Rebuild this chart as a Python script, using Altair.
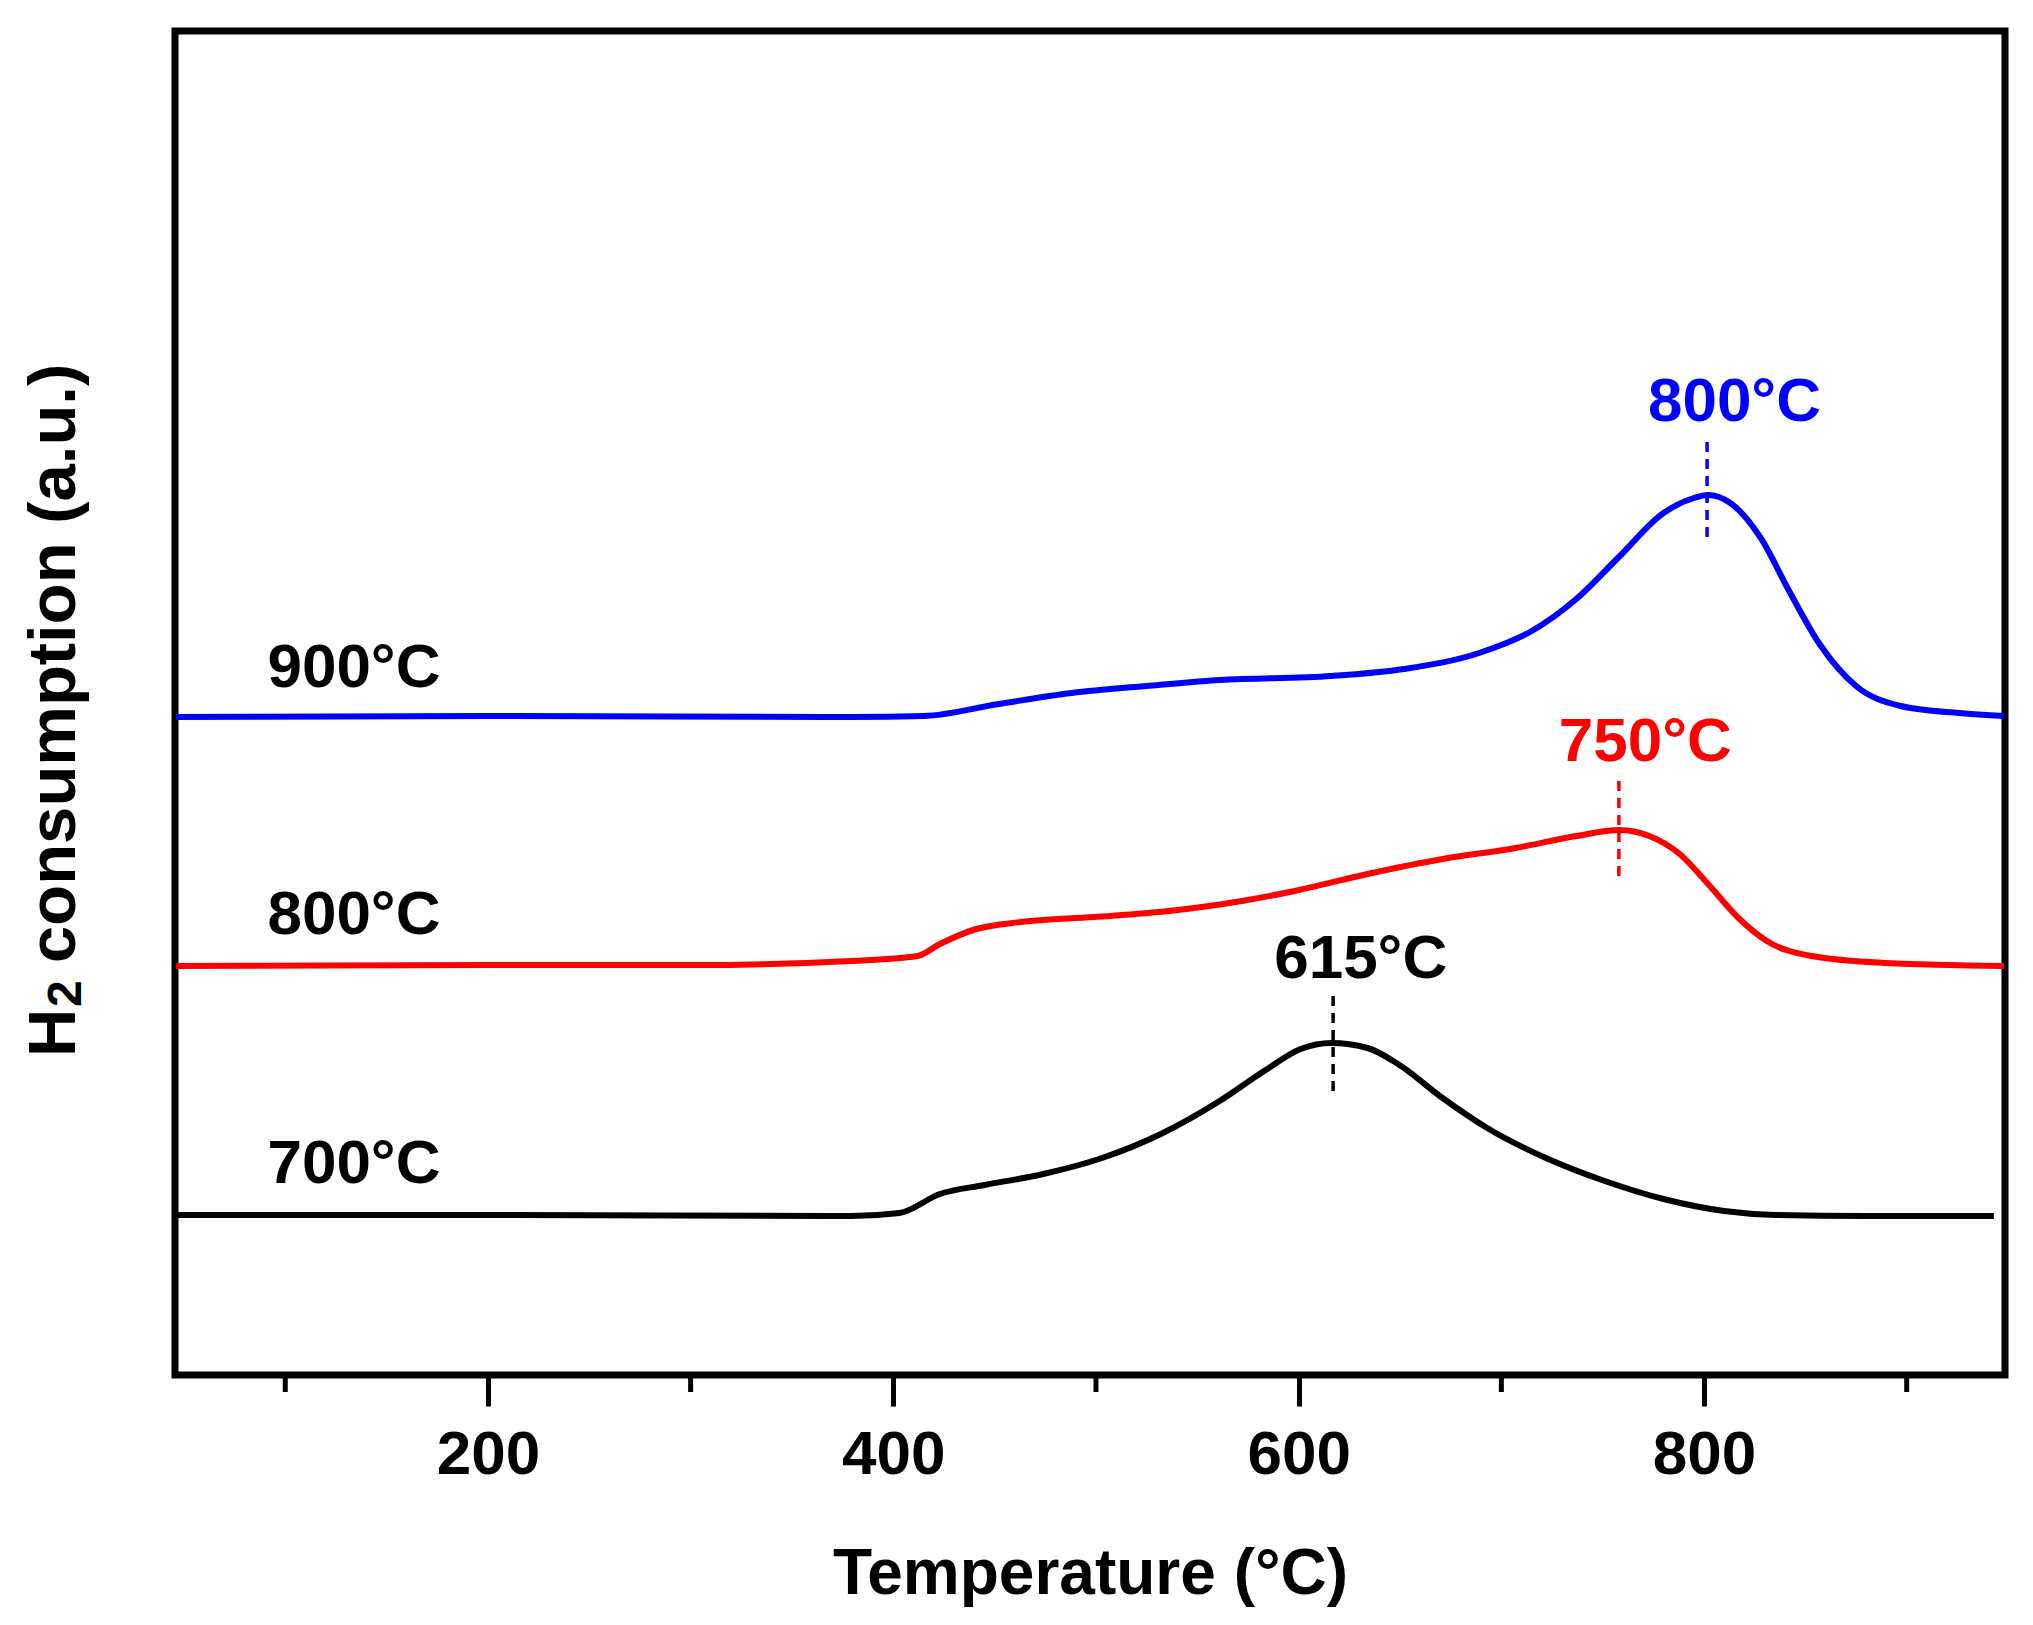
import altair as alt
import pandas as pd

# ---- data ----
temp_700 = [46, 200, 379, 403, 423, 445, 474, 503, 532, 561, 583, 601, 616, 634, 649, 671, 693, 722, 751, 780, 810, 835, 880, 943]
h2_700 = [160, 160, 159, 162, 181, 190, 201, 217, 241, 274, 304, 326, 332, 327, 311, 277, 247, 217, 194, 176, 164, 160, 159, 159]

temp_800 = [46, 200, 300, 379, 412, 423, 441, 463, 499, 536, 572, 598, 634, 671, 707, 737, 758, 773, 788, 802, 817, 831, 853, 890, 948]
h2_800 = [409, 410, 410, 414, 419, 431, 446, 453, 458, 464, 474, 484, 501, 516, 527, 539, 545, 539, 521, 491, 457, 434, 419, 412, 409]

temp_900 = [46, 200, 379, 415, 452, 488, 525, 561, 616, 652, 689, 715, 737, 758, 780, 795, 802, 813, 828, 842, 857, 875, 897, 926, 948]
h2_900 = [658, 659, 658, 659, 671, 682, 689, 695, 699, 706, 722, 744, 776, 818, 862, 877, 880, 872, 837, 784, 731, 689, 669, 662, 659]

series_names = ["700°C", "800°C", "900°C"]
series_colors = ["#000000", "#FF0000", "#0000FF"]

# curve labels (left side)
name_label_x = [91.2, 91.2, 91.2]
name_label_y = [211, 460, 707]

# peak annotations
peak_text = ["615°C", "750°C", "800°C"]
peak_label_x = [630.6, 771, 815]
peak_label_y = [416, 633, 973]
peak_line_x = [617, 758, 801.5]
peak_line_top = [379, 594, 933]
peak_line_bottom = [277, 492, 834]

major_ticks = [200, 400, 600, 800]
minor_ticks = [100, 300, 500, 700, 900]

# y-axis title pieces (H, subscript 2, rest)
ytitle_parts = ["H", "2", "consumption (a.u.)"]

X_DOMAIN = [45.6, 948.5]
Y_DOMAIN = [0, 1344]
W, H = 1830, 1344
FONT = "Liberation Sans"

# ---- tables ----
rows = []
for name, col, xs, ys in zip(series_names, series_colors,
                             [temp_700, temp_800, temp_900],
                             [h2_700, h2_800, h2_900]):
    for i, (a, b) in enumerate(zip(xs, ys)):
        rows.append({"series": name, "color": col, "T": a, "v": b, "order": i})
curves = pd.DataFrame(rows)

names_df = pd.DataFrame({"label": series_names, "x": name_label_x, "y": name_label_y})
peaks_df = pd.DataFrame({"label": peak_text, "x": peak_label_x, "y": peak_label_y, "color": series_colors})
dash_df = pd.DataFrame({"x": peak_line_x, "y": peak_line_top, "y2": peak_line_bottom, "color": series_colors})
minor_df = pd.DataFrame({"x": minor_ticks})

xscale = alt.Scale(domain=X_DOMAIN, nice=False, zero=False)
yscale = alt.Scale(domain=Y_DOMAIN, nice=False, zero=False)

xaxis = alt.Axis(
    title="Temperature (°C)", values=major_ticks, grid=False, domain=False,
    ticks=True, tickSize=31, tickWidth=5, tickColor="black",
    labelFont=FONT, labelFontSize=62, labelFontWeight="bold", labelColor="black",
    labelPadding=18, labelFlush=False,
    titleFont=FONT, titleFontSize=64, titleFontWeight="bold", titleColor="black",
    titleBaseline="alphabetic", titleY=218,
)
yaxis = alt.Axis(title=None, labels=False, ticks=False, domain=False, grid=False)

lines = alt.Chart(curves).mark_line(strokeWidth=6, interpolate="monotone").encode(
    x=alt.X("T:Q", scale=xscale, axis=xaxis),
    y=alt.Y("v:Q", scale=yscale, axis=yaxis),
    detail="series:N",
    order="order:Q",
    color=alt.Color("color:N", scale=None),
)

dashes = alt.Chart(dash_df).mark_rule(strokeWidth=3.5, strokeDash=[10, 7]).encode(
    x=alt.X("x:Q", scale=xscale),
    y=alt.Y("y:Q", scale=yscale),
    y2="y2:Q",
    color=alt.Color("color:N", scale=None),
)

minor = alt.Chart(minor_df).mark_rule(strokeWidth=5, color="black").encode(
    x=alt.X("x:Q", scale=xscale),
    y=alt.value(H),
    y2=alt.value(H + 17),
)

name_text = alt.Chart(names_df).mark_text(
    font=FONT, fontSize=62, fontWeight="bold", align="left", baseline="middle", color="black"
).encode(x=alt.X("x:Q", scale=xscale), y=alt.Y("y:Q", scale=yscale), text="label:N")

peak_txt = alt.Chart(peaks_df).mark_text(
    font=FONT, fontSize=62, fontWeight="bold", align="center", baseline="middle"
).encode(
    x=alt.X("x:Q", scale=xscale), y=alt.Y("y:Q", scale=yscale), text="label:N",
    color=alt.Color("color:N", scale=None),
)

# y-axis title built from pieces so that the "2" is a real subscript
def ytitle_piece(txt, size, px, py):
    return alt.Chart(pd.DataFrame({"t": [txt]})).mark_text(
        font=FONT, fontSize=size, fontWeight="bold", align="left",
        baseline="alphabetic", angle=270, color="black",
    ).encode(text="t:N", x=alt.value(px), y=alt.value(py))

yt_h = ytitle_piece(ytitle_parts[0], 67, -100, 1026)
yt_2 = ytitle_piece(ytitle_parts[1], 48, -94, 976)
yt_rest = ytitle_piece(ytitle_parts[2], 67, -100, 932)

chart = alt.layer(lines, dashes, minor, name_text, peak_txt, yt_h, yt_2, yt_rest).properties(
    width=W, height=H,
    autosize=alt.AutoSizeParams(type="none"),
    padding={"left": 167, "top": 23, "right": 10, "bottom": 235},
    background="white",
).configure_view(stroke="black", strokeWidth=7)

chart.save("out.html", embed_options={"renderer": "svg", "actions": False})
